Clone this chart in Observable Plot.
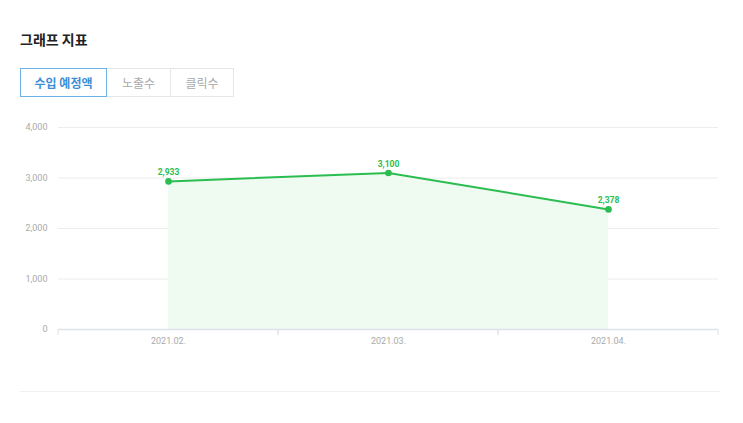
<!DOCTYPE html>
<html><head><meta charset="utf-8">
<script src="https://cdn.jsdelivr.net/npm/d3@7"></script>
<script src="https://cdn.jsdelivr.net/npm/@observablehq/plot@0.6"></script>
<style>
body{margin:0;background:#fff;font-family:"Noto Sans CJK KR","Noto Sans",sans-serif;width:743px;height:423px;overflow:hidden;position:relative}
#title{position:absolute;left:20px;top:29px;font-size:14px;font-weight:700;color:#222;line-height:20px}
#tabs{position:absolute;left:20px;top:68px;display:flex}
.tab{height:27px;line-height:27px;border:1px solid #e6e6e6;border-left:none;text-align:center;font-size:12px;color:#a9a9a9}
.tab.on{border:1px solid #6cb2e6;color:#3a8fd8;font-weight:700}
#chart{position:absolute;left:0;top:110px}
#bottom{position:absolute;left:20px;top:391px;width:700px;height:1px;background:#f0f0f0}
</style></head>
<body>
<div id="title">그래프 지표</div>
<div id="tabs"><div class="tab on" style="width:85px">수입 예정액</div><div class="tab" style="width:63px">노출수</div><div class="tab" style="width:62px">클릭수</div></div>
<div id="chart"></div>
<div id="bottom"></div>
<script>
const months = ["2021.02.", "2021.03.", "2021.04."];
const values = [2933, 3100, 2378];
const yTicks = [0, 1000, 2000, 3000, 4000];
const data = months.map((m, i) => ({month: m, value: values[i]}));
const green = "#2abd50";
const W = 743, ML = 58, MR = 25, tickLen = 6;
const bandW = (W - ML - MR) / months.length;
const chart = Plot.plot({
  width: W, height: 300,
  marginLeft: ML, marginRight: MR, marginTop: 17, marginBottom: 81,
  style: {fontFamily: "Roboto, sans-serif", fontSize: "9px", color: "#aaa", background: "transparent"},
  x: {type: "band", domain: months, padding: 0, tickSize: 0, tickPadding: 8, label: null},
  y: {domain: [0, 4000], ticks: yTicks, tickSize: 0, tickPadding: 11, label: null, tickFormat: d3.format(",")},
  marks: [
    Plot.gridY(yTicks.filter(d => d > 0), {stroke: "#ececec", strokeOpacity: 1}),
    Plot.areaY(data, {x: "month", y: "value", fill: "#effaf1"}),
    Plot.barY(months, {x: d => d, y1: 0, y2: 0, stroke: "#dde2ea", fill: "none", insetBottom: -tickLen,
      strokeDasharray: `0 ${bandW} ${tickLen} ${bandW} ${tickLen}`}),
    Plot.ruleY([0], {stroke: "#dde2ea", strokeWidth: 1.5}),
    Plot.line(data, {x: "month", y: "value", stroke: green, strokeWidth: 2}),
    Plot.dot(data, {x: "month", y: "value", fill: green, r: 3.3}),
    Plot.text(data, {x: "month", y: "value", text: d => d3.format(",")(d.value), dy: -9, fill: green, fontWeight: "bold", fontSize: 8.5})
  ]
});
document.getElementById("chart").appendChild(chart);
</script>
</body></html>
